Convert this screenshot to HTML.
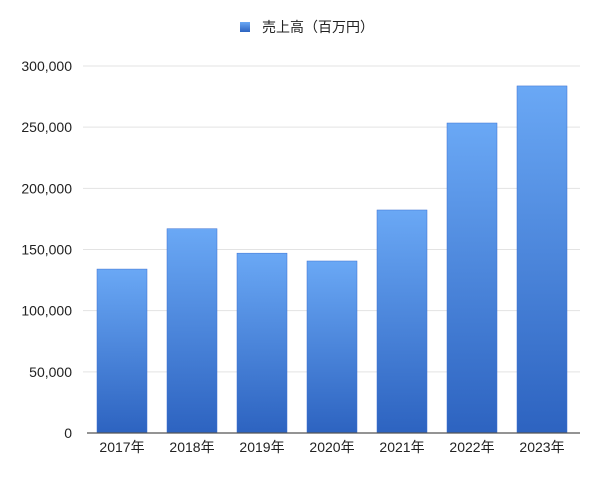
<!DOCTYPE html>
<html><head><meta charset="utf-8"><style>
body{margin:0;background:#fff;}
svg{display:block;font-family:"Liberation Sans","Noto Sans CJK JP",sans-serif;}
</style></head><body>
<svg id="c" width="600" height="477">
<defs><linearGradient id="g" x1="0" y1="0" x2="0" y2="1"><stop offset="0" stop-color="#6aa8f5"/><stop offset="1" stop-color="#2d63c0"/></linearGradient></defs>
<g>
<rect x="240" y="22" width="10" height="10" fill="url(#g)"/>
<text x="262" y="32" font-size="14" fill="#222">売上高（百万円）</text>
</g>
<g id="grid"></g><g id="bars"></g><g id="xl"></g>
</svg>
<script>
const categories=["2017年","2018年","2019年","2020年","2021年","2022年","2023年"];
const sales=[134000,167000,147000,140600,182300,253400,283700];
const yTicks=[0,50000,100000,150000,200000,250000,300000];
const ns="http://www.w3.org/2000/svg";
const x0=83,band=70,y0=433,yTop=66,yMax=300000;
const y=v=>y0-(v/yMax)*(y0-yTop);
const xb=i=>x0+i*band;
function mk(t,a,p){const e=document.createElementNS(ns,t);for(const k in a)e.setAttribute(k,a[k]);p.appendChild(e);return e;}
const grid=document.getElementById('grid'),bars=document.getElementById('bars'),xl=document.getElementById('xl');
yTicks.forEach(v=>{
 if(v>0){const l=mk('line',{x1:x0,x2:580,y1:y(v),y2:y(v),stroke:'#e3e3e3','stroke-width':1},grid);
 
 }
 const t=mk('text',{x:72,y:y(v)+5,'text-anchor':'end','font-size':14,fill:'#222'},grid);
 t.textContent=v.toLocaleString('en-US');
 
 
});
sales.forEach((v,i)=>{
 const r=mk('rect',{x:xb(i)+14,y:y(v),width:50,height:y0-y(v),fill:'url(#g)',stroke:'#3a6fd0','stroke-width':0.5},bars);
 
 
 const t=mk('text',{x:xb(i)+39,y:452,'text-anchor':'middle','font-size':14,fill:'#222'},xl);
 t.textContent=categories[i];
 
 
});
const ax=mk('line',{x1:x0+4,x2:580,y1:y0,y2:y0,stroke:'#555','stroke-width':1.2},xl);


</script>
</body></html>
